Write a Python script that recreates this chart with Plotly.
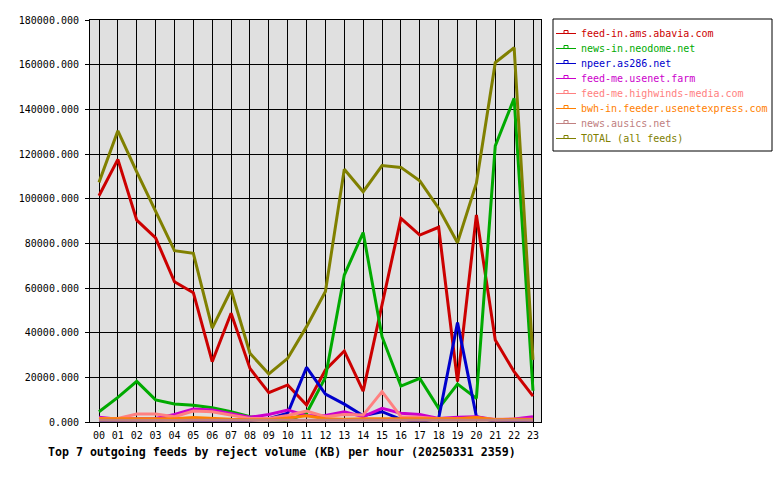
import plotly.graph_objects as go

hours = list(range(24))
hour_labels = [f"{h:02d}" for h in hours]

feed_names = [
    "feed-in.ams.abavia.com",
    "news-in.neodome.net",
    "npeer.as286.net",
    "feed-me.usenet.farm",
    "feed-me.highwinds-media.com",
    "bwh-in.feeder.usenetexpress.com",
    "news.ausics.net",
    "TOTAL (all feeds)",
]
feed_colors = ["#cc0000", "#00aa00", "#0000cc", "#cc00cc", "#ff8080", "#ff8000", "#c08080", "#808000"]

abavia = [101300, 117600, 90400, 82400, 62800, 57900, 27000, 48700, 24000, 13100, 16600, 7600,
          23300, 31800, 13800, 52000, 91200, 83700, 87200, 18100, 92700, 36700, 22500, 11600]
neodome = [4600, 11000, 18200, 9900, 8100, 7500, 6400, 4600, 2400, 1000, 600, 3900,
           20000, 65800, 84800, 38200, 16100, 19500, 6100, 17000, 10600, 123600, 144900, 14000]
as286 = [300, 300, 300, 300, 300, 300, 300, 300, 700, 1500, 3900, 24500,
         12500, 8000, 2800, 4600, 1200, 200, 1600, 44500, 2400, 200, 200, 200]
usenetfarm = [2100, 1200, 1400, 1600, 3400, 5800, 5400, 3900, 2100, 3400, 5400, 2800,
              2900, 4600, 2400, 6100, 3900, 3400, 1600, 2100, 2400, 1000, 1300, 2400]
highwinds = [1600, 1600, 3600, 3600, 2400, 4900, 4600, 3100, 1600, 1600, 2900, 4900,
             2400, 3400, 3100, 13600, 2400, 2100, 1500, 1500, 1800, 1200, 1200, 1200]
usenetexpress = [1500, 1500, 1800, 1500, 1500, 2000, 1500, 1200, 1000, 1000, 1800, 2800,
                 1500, 1200, 1500, 1500, 1500, 1500, 1500, 1500, 2000, 1000, 1200, 1000]
ausics = [800, 700, 800, 800, 700, 800, 800, 700, 800, 700, 800, 900,
          700, 800, 800, 900, 800, 700, 800, 700, 800, 700, 700, 800]
total = [107300, 130400, 112000, 94200, 76700, 75500, 42000, 59100, 30800, 21500, 28500, 42700,
         58400, 113200, 103100, 114800, 114000, 108000, 95700, 80300, 106900, 160900, 167600, 27800]

series = [abavia, neodome, as286, usenetfarm, highwinds, usenetexpress, ausics, total]

title_text = "Top 7 outgoing feeds by reject volume (KB) per hour (20250331 2359)"
yticks = list(range(0, 180001, 20000))

MONO = "DejaVu Sans Mono"

# plot area in pixels
L, R, T, B = 90, 541, 20, 422
W, H = 780, 480


def px(x):
    return (x - L) / (R - L)


def py(y):
    return (B - y) / (B - T)


fig = go.Figure()
for name, color, vals in zip(feed_names, feed_colors, series):
    fig.add_trace(go.Scatter(x=hours, y=vals, mode="lines", name=name,
                             line=dict(color=color, width=3), showlegend=False))

step = 434 / 23
r0 = -(99 - L) / step
r1 = r0 + (R - L) / step

fig.update_layout(
    width=W, height=H,
    margin=dict(l=L, r=W - R, t=T, b=H - B, pad=0),
    paper_bgcolor="white",
    plot_bgcolor="#e0e0e0",
    font=dict(family=MONO, size=10, color="black"),
    xaxis=dict(range=[r0, r1], tickmode="array", tickvals=hours, ticktext=hour_labels,
               showgrid=True, gridcolor="black", gridwidth=1, zeroline=False,
               showline=True, linecolor="black", linewidth=1, mirror=True,
               ticks="outside", ticklen=4, tickcolor="black",
               tickfont=dict(family=MONO, size=10, color="black")),
    yaxis=dict(range=[0, 180000], tickmode="array", tickvals=yticks,
               ticktext=[f"{v:.3f}" for v in yticks],
               showgrid=True, gridcolor="black", gridwidth=1, zeroline=False,
               showline=True, linecolor="black", linewidth=1, mirror=True,
               ticks="outside", ticklen=4, tickcolor="black",
               ticklabelstandoff=4,
               tickfont=dict(family=MONO, size=10, color="black")),
)

shapes = []
annotations = []
# legend box
shapes.append(dict(type="rect", xref="paper", yref="paper",
                   x0=px(553), x1=px(772), y0=py(19), y1=py(151),
                   line=dict(color="black", width=1), fillcolor="white", layer="above"))
for i, (name, color) in enumerate(zip(feed_names, feed_colors)):
    yc = 33.5 + 15 * i
    shapes.append(dict(type="line", xref="paper", yref="paper",
                       x0=px(556), x1=px(576), y0=py(yc), y1=py(yc),
                       line=dict(color=color, width=1), layer="above"))
    shapes.append(dict(type="rect", xref="paper", yref="paper",
                       x0=px(564), x1=px(568), y0=py(yc), y1=py(yc - 3),
                       line=dict(color=color, width=1), fillcolor="white", layer="above"))
    annotations.append(dict(text=name, xref="paper", yref="paper",
                            x=px(579), y=py(yc), xanchor="left", yanchor="middle",
                            showarrow=False, font=dict(family=MONO, size=10, color=color)))

annotations.append(dict(text="<b>" + title_text + "</b>", xref="paper", yref="paper",
                        x=px(46), y=py(452), xanchor="left", yanchor="middle",
                        showarrow=False, font=dict(family=MONO, size=11.6, color="black")))

fig.update_layout(shapes=shapes, annotations=annotations)
fig.write_html("out.html")
